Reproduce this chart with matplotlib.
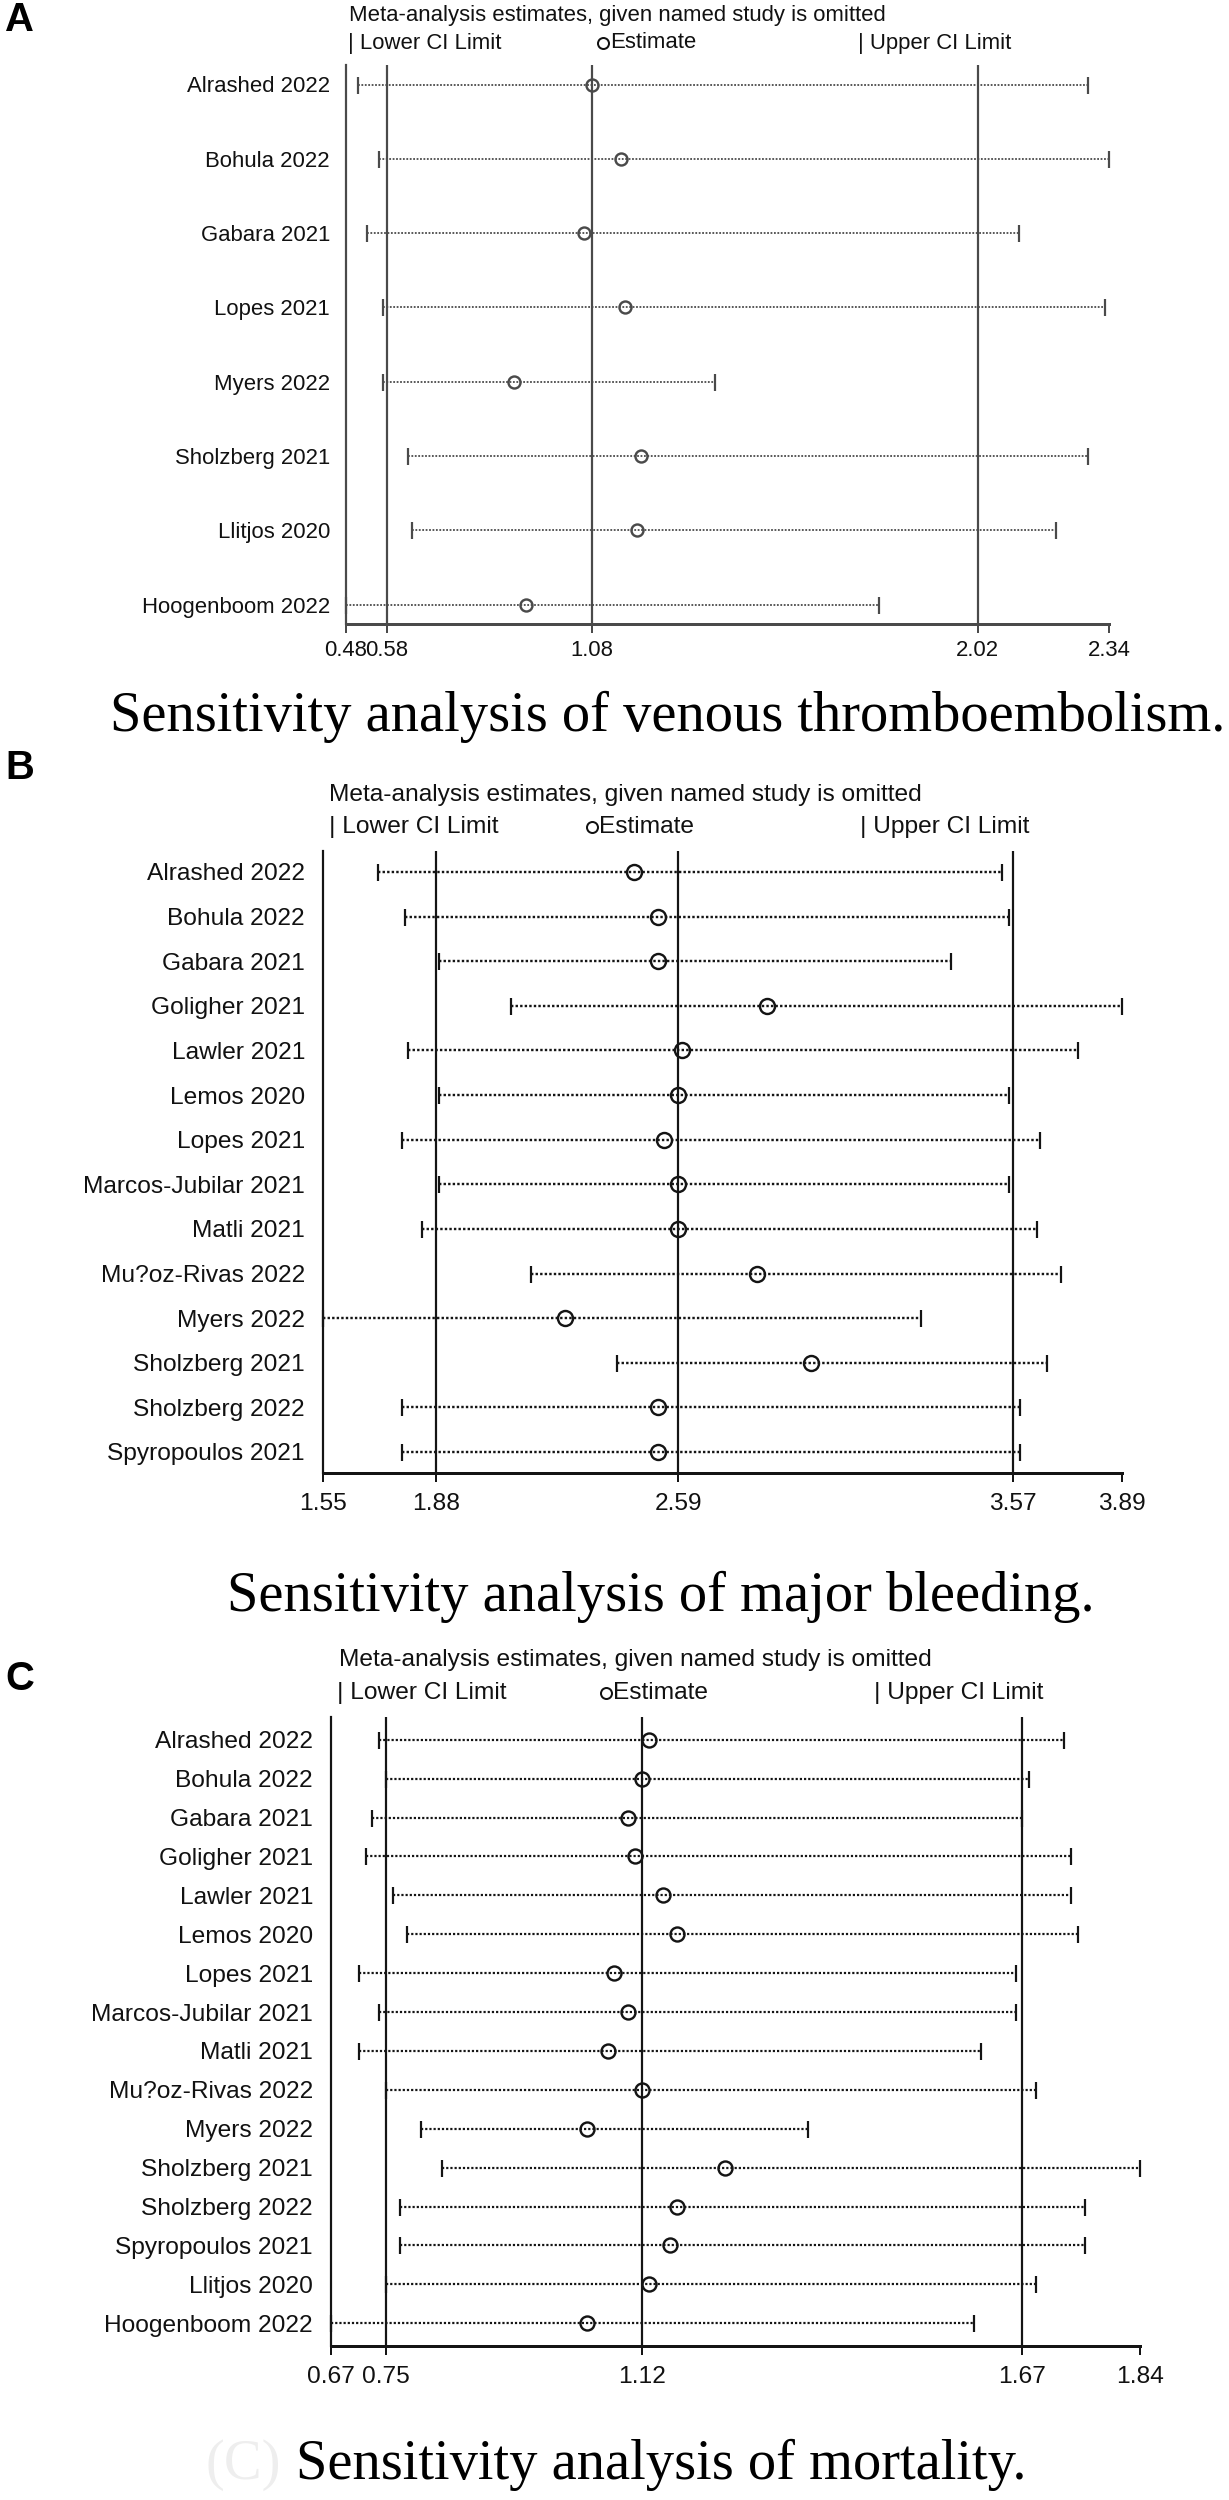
import matplotlib.pyplot as plt
from matplotlib.lines import Line2D

plt.rcParams['font.family'] = ['Liberation Sans', 'DejaVu Sans']

# ---- data ----
# A: venous thromboembolism
names_a = ["Alrashed 2022", "Bohula 2022", "Gabara 2021", "Lopes 2021",
           "Myers 2022", "Sholzberg 2021", "Llitjos 2020", "Hoogenboom 2022"]
lower_a = [0.51, 0.56, 0.53, 0.57, 0.57, 0.63, 0.64, 0.48]
est_a = [1.08, 1.15, 1.06, 1.16, 0.89, 1.20, 1.19, 0.92]
upper_a = [2.29, 2.34, 2.12, 2.33, 1.38, 2.29, 2.21, 1.78]
overall_a = [0.58, 1.08, 2.02]
ticks_a = [0.48, 0.58, 1.08, 2.02, 2.34]

# B: major bleeding
names_b = ["Alrashed 2022", "Bohula 2022", "Gabara 2021", "Goligher 2021",
           "Lawler 2021", "Lemos 2020", "Lopes 2021", "Marcos-Jubilar 2021",
           "Matli 2021", "Mu?oz-Rivas 2022", "Myers 2022", "Sholzberg 2021",
           "Sholzberg 2022", "Spyropoulos 2021"]
lower_b = [1.71, 1.79, 1.89, 2.10, 1.80, 1.89, 1.78, 1.89, 1.84, 2.16,
           1.55, 2.41, 1.78, 1.78]
est_b = [2.46, 2.53, 2.53, 2.85, 2.60, 2.59, 2.55, 2.59, 2.59, 2.82,
         2.26, 2.98, 2.53, 2.53]
upper_b = [3.54, 3.56, 3.39, 3.89, 3.76, 3.56, 3.65, 3.56, 3.64, 3.71,
           3.30, 3.67, 3.59, 3.59]
overall_b = [1.88, 2.59, 3.57]
ticks_b = [1.55, 1.88, 2.59, 3.57, 3.89]

# C: mortality
names_c = ["Alrashed 2022", "Bohula 2022", "Gabara 2021", "Goligher 2021",
           "Lawler 2021", "Lemos 2020", "Lopes 2021", "Marcos-Jubilar 2021",
           "Matli 2021", "Mu?oz-Rivas 2022", "Myers 2022", "Sholzberg 2021",
           "Sholzberg 2022", "Spyropoulos 2021", "Llitjos 2020",
           "Hoogenboom 2022"]
lower_c = [0.74, 0.75, 0.73, 0.72, 0.76, 0.78, 0.71, 0.74, 0.71, 0.75,
           0.80, 0.83, 0.77, 0.77, 0.75, 0.67]
est_c = [1.13, 1.12, 1.10, 1.11, 1.15, 1.17, 1.08, 1.10, 1.07, 1.12,
         1.04, 1.24, 1.17, 1.16, 1.13, 1.04]
upper_c = [1.73, 1.68, 1.67, 1.74, 1.74, 1.75, 1.66, 1.66, 1.61, 1.69,
           1.36, 1.84, 1.76, 1.76, 1.69, 1.60]
overall_c = [0.75, 1.12, 1.67]
ticks_c = [0.67, 0.75, 1.12, 1.67, 1.84]

W, H = 1229, 2500
fig = plt.figure(figsize=(W / 100, H / 100), dpi=100)


def fx(x):
    return x / W


def fy(y):
    return 1 - y / H


def pt(px):
    return px * 72 / 100


def panel(letter, names, lo, est, hi, overall, ticks, box, pad, fs, col,
          letter_y, title_xy, legend_y, legend_x, caption, cap_xy, lab_pad,
          circ, tick_pad, dot_lw):
    x0, x1, y0, y1 = box
    ax = fig.add_axes([fx(x0), fy(y1), (x1 - x0) / W, (y1 - y0) / H])
    n = len(names)
    rows = list(range(n))
    spacing = (y1 - y0 - 2 * pad) / (n - 1)
    m = pad / spacing
    ax.set_ylim(n - 1 + m, -m)
    ax.set_xlim(ticks[0], ticks[-1])

    for v in overall:
        ax.axvline(v, color=col, lw=pt(2.2), zorder=1)
    for r in rows:
        ax.plot([lo[r], hi[r]], [r, r], ls=(0, (1, 0.9)), lw=pt(dot_lw),
                color=col, zorder=2, clip_on=False)
    ax.plot(lo, rows, '|', color=col, ms=pt(17), mew=pt(2.2), zorder=3,
            clip_on=False)
    ax.plot(hi, rows, '|', color=col, ms=pt(17), mew=pt(2.2), zorder=3,
            clip_on=False)
    ax.plot(est, rows, 'o', mfc='none', mec=col, ms=pt(circ), mew=pt(2.4),
            zorder=4, clip_on=False)

    for s in ['top', 'right']:
        ax.spines[s].set_visible(False)
    ax.spines['left'].set_color(col)
    ax.spines['left'].set_linewidth(pt(2.2))
    ax.spines['bottom'].set_color(col)
    ax.spines['bottom'].set_linewidth(pt(3))

    ax.set_yticks(rows)
    ax.set_yticklabels(names, fontsize=pt(fs), color='#111')
    ax.tick_params(axis='y', length=0, pad=pt(lab_pad))
    ax.set_xticks(ticks)
    ax.set_xticklabels(['%.2f' % t for t in ticks], fontsize=pt(fs),
                       color='#111')
    ax.tick_params(axis='x', length=pt(9), width=pt(2), color=col,
                   pad=pt(tick_pad))

    fig.text(fx(5), fy(letter_y), letter, fontsize=pt(40),
             fontweight='bold', va='center', ha='left')
    fig.text(fx(title_xy[0]), fy(title_xy[1]),
             "Meta-analysis estimates, given named study is omitted",
             fontsize=pt(fs), va='center', ha='left', color='#111')
    fig.text(fx(legend_x[0]), fy(legend_y), "| Lower CI Limit",
             fontsize=pt(fs), va='center', ha='left', color='#111')
    fig.add_artist(Line2D([fx(legend_x[1] + 6)], [fy(legend_y)], marker='o',
                          mfc='none', mec='#111', ms=pt(11), mew=pt(2),
                          transform=fig.transFigure))
    fig.text(fx(legend_x[1] + 13), fy(legend_y), "Estimate",
             fontsize=pt(fs), va='center', ha='left', color='#111')
    fig.text(fx(legend_x[2]), fy(legend_y), "| Upper CI Limit",
             fontsize=pt(fs), va='center', ha='left', color='#111')
    fig.text(fx(cap_xy[0]), fy(cap_xy[1]), caption,
             family='Liberation Serif', fontsize=pt(56.5), va='center',
             ha='left')
    return ax


panel("A", names_a, lower_a, est_a, upper_a, overall_a, ticks_a,
      (346, 1109, 65, 624), 19.5, 22.2, '#4a4a4a', 20, (349, 15), 43,
      (348, 597, 858), "Sensitivity analysis of venous thromboembolism.",
      (110, 717), 16, 12, 7, 1.8)

panel("B", names_b, lower_b, est_b, upper_b, overall_b, ticks_b,
      (323, 1122, 851, 1473), 21, 24.5, '#141414', 768, (329, 795), 827,
      (329, 586, 860), "Sensitivity analysis of major bleeding.",
      (227, 1597), 18, 15, 11, 2.4)

panel("C", names_c, lower_c, est_c, upper_c, overall_c, ticks_c,
      (331, 1140, 1717, 2346), 22.7, 24.5, '#141414', 1679, (339, 1660), 1693,
      (337, 600, 874), "Sensitivity analysis of mortality.",
      (296, 2465), 18, 14, 11, 2.2)

# faint panel tag left of the last caption
fig.text(fx(206), fy(2465), "(C)", family='Liberation Serif',
         fontsize=pt(56.5), va='center', ha='left', color='#eeeeee')

fig.savefig("out.png", dpi=100, facecolor='white')
